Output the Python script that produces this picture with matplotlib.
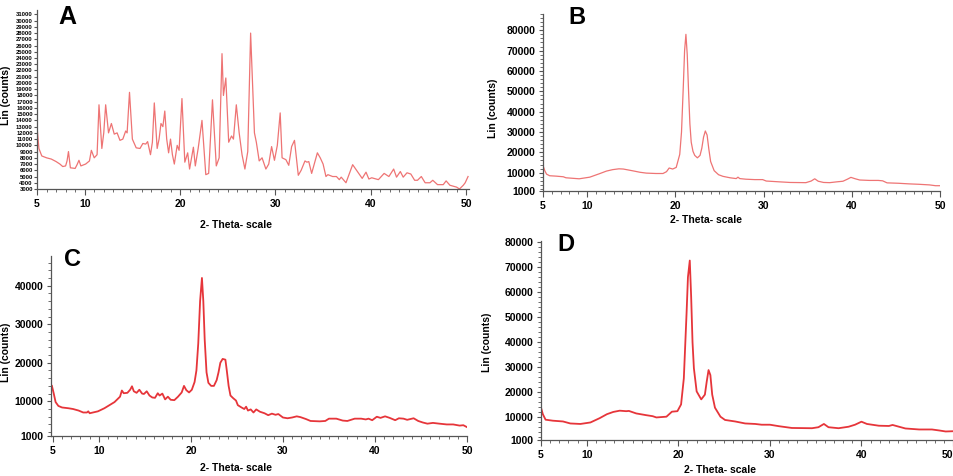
import matplotlib
matplotlib.use('Agg')
import matplotlib.pyplot as plt
from matplotlib.ticker import MultipleLocator, FixedLocator

plt.rcParams['font.family'] = ['Liberation Sans', 'DejaVu Sans']
plt.rcParams['font.weight'] = 'bold'

# ---- data ----
a_x = [5.0, 5.2, 5.5, 6.0, 6.5, 7.0, 7.4, 7.7, 8.0, 8.15,
       8.3, 8.5, 9.0, 9.2, 9.4, 9.6, 10.1, 10.5, 10.7, 11.0,
       11.3, 11.5, 11.8, 12.0, 12.2, 12.5, 12.8, 13.1, 13.4, 13.7,
       14.0, 14.3, 14.45, 14.7, 15.0, 15.4, 15.8, 16.1, 16.4, 16.6,
       16.9, 17.1, 17.3, 17.6, 17.8, 18.0, 18.2, 18.4, 18.6, 18.8,
       19.0, 19.2, 19.4, 19.7, 19.9, 20.2, 20.5, 20.8, 21.0, 21.4,
       21.6, 21.9, 22.3, 22.7, 23.0, 23.4, 23.8, 24.1, 24.4, 24.55,
       24.8, 25.1, 25.4, 25.6, 25.9, 26.2, 26.5, 26.8, 27.1, 27.4,
       27.8, 28.0, 28.3, 28.6, 29.0, 29.3, 29.6, 29.9, 30.2, 30.5,
       30.7, 31.1, 31.4, 31.7, 32.0, 32.4, 32.7, 33.1, 33.3, 33.5,
       33.8, 34.4, 34.7, 35.0, 35.3, 35.5, 36.0, 36.4, 36.7, 36.9,
       37.4, 38.1, 38.6, 39.1, 39.5, 39.8, 40.1, 40.8, 41.4, 41.9,
       42.4, 42.7, 43.1, 43.4, 43.8, 44.2, 44.6, 44.9, 45.3, 45.7,
       46.2, 46.5, 47.0, 47.6, 47.9, 48.3, 49.0, 49.3, 49.7, 49.9,
       50.2]
a_y = [13000, 9500, 8300, 8000, 7800, 7400, 7000, 6600, 6700, 7500,
       9000, 6400, 6300, 6900, 7600, 6700, 7000, 7500, 9200, 8000,
       8500, 16500, 9500, 12000, 16500, 12000, 13500, 11800, 12000, 10800,
       11000, 12300, 12000, 18500, 11000, 9600, 9500, 10300, 10200, 10600,
       8500, 10500, 16800, 9500, 11000, 13500, 13000, 15500, 11000, 8800,
       11000, 8500, 7000, 10000, 9200, 17500, 7300, 8800, 6200, 9700,
       6700, 9500, 14000, 5300, 5500, 17300, 6700, 8000, 24700, 18000,
       20800, 10500, 11500, 11000, 16500, 12000, 8500, 6200, 9000, 28000,
       12000, 10500, 7500, 8000, 6200, 7000, 9800, 7600, 10000, 15200,
       8000, 7700, 6800, 9800, 10800, 5200, 6000, 7500, 7300, 7400,
       5500, 8800, 8000, 7000, 5000, 5300, 5000, 5000, 4500, 4900,
       4000, 6900, 5800, 4700, 5700, 4600, 4800, 4500, 5500, 5000,
       6200, 4900, 5800, 4900, 5600, 5400, 4400, 4400, 5000, 4000,
       4000, 4400, 3700, 3700, 4300, 3600, 3300, 3000, 3600, 4000,
       5000]

b_x = [5.0, 5.2, 5.4, 5.75, 6.5, 7.3, 7.6, 8.5, 9.1, 10.3,
       11.4, 12.2, 12.9, 13.6, 14.1, 15.2, 16.0, 16.7, 17.8, 18.6,
       19.0, 19.3, 19.7, 20.1, 20.5, 20.7, 20.9, 21.05, 21.2, 21.35,
       21.5, 21.65, 21.8, 22.0, 22.2, 22.5, 22.8, 23.0, 23.2, 23.4,
       23.6, 23.8, 24.0, 24.4, 24.9, 25.4, 26.2, 26.9, 27.1, 27.3,
       28.0, 29.0, 29.9, 30.3, 31.8, 33.0, 34.8, 35.4, 35.8, 36.2,
       36.8, 37.5, 38.3, 39.0, 39.5, 39.9, 40.4, 40.9, 42.0, 43.0,
       43.5, 44.0, 45.3, 46.5, 47.6, 48.8, 49.5, 50.0]
b_y = [13500, 11000, 9300, 8500, 8300, 8000, 7500, 7200, 7000, 7800,
       9500, 10800, 11500, 11900, 11800, 10900, 10200, 9800, 9600, 9600,
       10500, 12300, 11800, 12600, 19000, 30000, 52000, 70000, 78000, 68000,
       50000, 34000, 25000, 20500, 18500, 17300, 18500, 22000, 27500, 30500,
       28500, 21500, 15500, 11000, 9000, 8200, 7500, 7100, 7800, 7100,
       6800, 6600, 6600, 5900, 5500, 5200, 5100, 5900, 7000, 5800,
       5200, 5100, 5500, 5800, 6800, 7700, 7000, 6400, 6200, 6200,
       6000, 5000, 4800, 4500, 4300, 4000, 3600, 3600]

c_x = [4.9, 5.1, 5.3, 5.6, 6.0, 6.7, 7.2, 7.8, 8.3, 8.7,
       8.85, 9.0, 9.9, 10.6, 11.7, 12.3, 12.5, 12.7, 13.1, 13.4,
       13.6, 13.8, 14.1, 14.4, 14.7, 14.9, 15.2, 15.5, 15.8, 16.1,
       16.4, 16.6, 16.9, 17.2, 17.5, 17.8, 18.2, 18.6, 19.0, 19.25,
       19.5, 19.8, 20.1, 20.4, 20.6, 20.8, 21.0, 21.2, 21.35, 21.5,
       21.7, 21.9, 22.2, 22.5, 22.8, 23.0, 23.2, 23.45, 23.75, 23.9,
       24.1, 24.3, 24.6, 24.9, 25.1, 25.5, 25.8, 26.0, 26.2, 26.5,
       26.8, 27.1, 27.5, 28.0, 28.4, 28.8, 29.2, 29.5, 30.0, 30.5,
       31.0, 31.5, 31.9, 32.5, 33.0, 34.0, 34.6, 35.0, 35.8, 36.5,
       37.0, 37.8, 38.5, 39.0, 39.3, 39.7, 40.2, 40.6, 41.1, 41.6,
       42.2, 42.6, 43.1, 43.5, 44.2, 44.7, 45.2, 45.7, 46.3, 47.0,
       47.8, 48.5, 49.2, 49.6, 50.0]
c_y = [14000, 12000, 9800, 8800, 8400, 8200, 8000, 7600, 7100, 7100,
       7400, 6900, 7400, 8200, 9800, 11200, 12800, 12100, 12200, 13000,
       13900, 12600, 12200, 13000, 12000, 11900, 12600, 11500, 11000, 10900,
       12100, 11500, 12000, 10500, 11200, 10400, 10300, 11200, 12300, 14000,
       12900, 12300, 13000, 15000, 18000, 25000, 36000, 42000, 36000, 26000,
       17500, 14800, 14000, 14000, 15500, 17500, 20000, 21000, 20800, 18000,
       14000, 11500, 10800, 10200, 9000, 8400, 8000, 8600, 7600, 7900,
       7100, 7900, 7300, 6900, 6400, 6800, 6500, 6700, 5800, 5600,
       5800, 6100, 5900, 5400, 4900, 4800, 4900, 5500, 5500, 5000,
       4900, 5500, 5500, 5300, 5500, 5100, 6000, 5700, 6100, 5700,
       5100, 5600, 5500, 5200, 5600, 4900, 4500, 4200, 4400, 4200,
       4000, 4000, 3700, 3800, 3300]

d_x = [5.0, 5.2, 5.5, 6.3, 7.4, 8.2, 9.3, 10.4, 11.4, 12.2,
       12.9, 13.6, 14.3, 14.6, 15.4, 16.5, 17.2, 17.6, 18.7, 19.0,
       19.3, 19.9, 20.3, 20.6, 20.9, 21.05, 21.25, 21.4, 21.55, 21.7,
       22.0, 22.5, 22.9, 23.1, 23.3, 23.5, 23.7, 24.0, 24.6, 25.1,
       26.2, 27.3, 28.4, 29.1, 30.0, 31.0, 32.4, 34.6, 35.3, 35.9,
       36.4, 37.5, 38.6, 39.3, 40.0, 40.6, 41.9, 43.0, 43.4, 44.1,
       44.8, 46.3, 47.7, 48.5, 49.2, 50.0]
d_y = [13900, 11300, 9100, 8700, 8400, 7600, 7400, 8000, 9700, 11300,
       12200, 12700, 12500, 12600, 11600, 10900, 10500, 10000, 10300, 11300,
       12300, 12500, 15200, 25600, 51700, 66000, 72600, 58200, 40000, 29600,
       20400, 17200, 19100, 24300, 28900, 26900, 19100, 13900, 10300, 9000,
       8400, 7600, 7400, 7100, 7100, 6500, 5800, 5700, 6100, 7400,
       6100, 5700, 6300, 7100, 8300, 7400, 6700, 6600, 7000, 6300,
       5600, 5200, 5200, 4800, 4400, 4500]

a_yticks = list(range(3000, 31001, 1000))
b_yticks = [1000] + list(range(10000, 80001, 10000))
c_yticks = [1000, 10000, 20000, 30000, 40000]
d_yticks = [1000] + list(range(10000, 80001, 10000))
x_ticks = [5, 10, 20, 30, 40, 50]

W, H = 954, 476
fig = plt.figure(figsize=(W / 100, H / 100), dpi=100)


def px_axes(left, right, top, bottom):
    return fig.add_axes([left / W, 1 - bottom / H, (right - left) / W, (bottom - top) / H])


def style(ax, xlim, ylim, yticks, ysize, ymin_step=None):
    ax.set_xlim(*xlim)
    ax.set_ylim(*ylim)
    for s in ['top', 'right']:
        ax.spines[s].set_visible(False)
    for s in ['left', 'bottom']:
        ax.spines[s].set_color('#555555')
        ax.spines[s].set_linewidth(0.9)
    ax.xaxis.set_major_locator(FixedLocator(x_ticks))
    ax.xaxis.set_minor_locator(MultipleLocator(1))
    ax.set_yticks(yticks)
    if ymin_step:
        ax.yaxis.set_minor_locator(MultipleLocator(ymin_step))
    ax.tick_params(axis='x', which='major', length=4, width=0.8, color='#555555',
                   labelsize=7.5, pad=3)
    ax.tick_params(axis='x', which='minor', length=2.5, width=0.6, color='#555555')
    ax.tick_params(axis='y', which='major', length=3, width=0.8, color='#555555',
                   labelsize=ysize, pad=2.5)
    ax.tick_params(axis='y', which='minor', length=2, width=0.6, color='#555555')
    for lab in ax.get_xticklabels() + ax.get_yticklabels():
        lab.set_fontweight('bold')


light = '#ee7474'
dark = '#e6353a'

# A
axA = px_axes(37, 469, 10, 189)
axA.plot(a_x, a_y, color=light, lw=0.9)
style(axA, (5, 50.3), (3000, 31700), a_yticks, 4.2)
axA.tick_params(axis='y', which='major', length=2, pad=1)

# B
axB = px_axes(543, 940, 14, 191)
axB.plot(b_x, b_y, color=light, lw=0.9)
style(axB, (5, 50), (1000, 88000), b_yticks, 7.5, 2000)

# C
axC = px_axes(51, 467, 256, 436)
axC.plot(c_x, c_y, color=dark, lw=1.3)
style(axC, (4.8, 50.0), (1000, 47700), c_yticks, 7.5, 2000)

# D
axD = px_axes(541, 953, 241, 440)
axD.plot(d_x, d_y, color=dark, lw=1.3)
style(axD, (5, 50), (1000, 80400), d_yticks, 7.5, 2000)
# last x label sits inside the figure edge, as in the original
axD.get_xticklabels()[-1].set_horizontalalignment('right')


def ftext(x, y, s, **kw):
    fig.text(x / W, 1 - y / H, s, **kw)


ftext(67, 17, 'A', fontsize=18, fontweight='bold', ha='center', va='center')
ftext(577, 18, 'B', fontsize=17, fontweight='bold', ha='center', va='center')
ftext(73, 260, 'C', fontsize=17, fontweight='bold', ha='center', va='center')
ftext(566, 245, 'D', fontsize=17, fontweight='bold', ha='center', va='center')

for x, y in [(236, 225), (706, 220), (236, 468), (720, 470)]:
    ftext(x, y, '2- Theta- scale', fontsize=7.5, fontweight='bold', ha='center', va='center')

for x, y in [(6, 95), (493, 108), (6, 352), (487, 342)]:
    ftext(x, y, 'Lin (counts)', fontsize=7.5, fontweight='bold', rotation=90,
          ha='center', va='center')

fig.savefig('out.png', dpi=100)
